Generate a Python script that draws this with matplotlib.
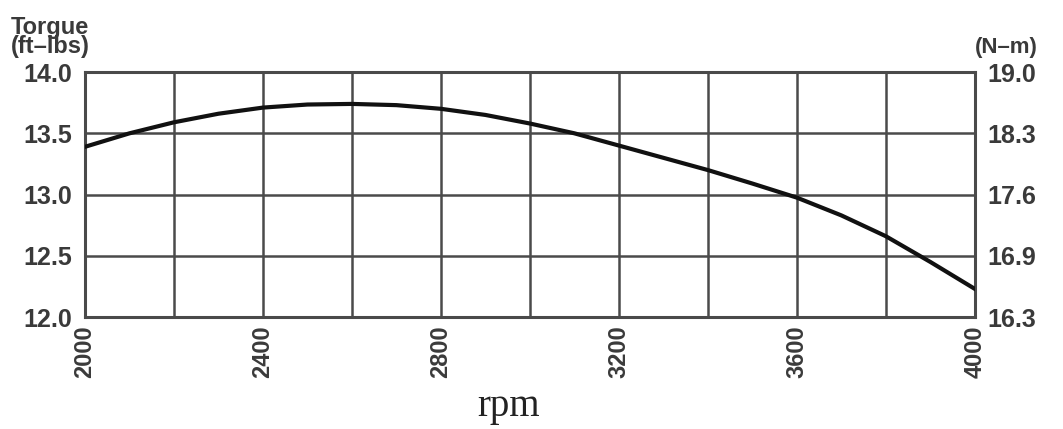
import matplotlib
matplotlib.use("Agg")
import matplotlib.pyplot as plt

rpm = [2000, 2100, 2200, 2300, 2400, 2500, 2600, 2700, 2800, 2900, 3000,
       3100, 3200, 3300, 3400, 3500, 3600, 3700, 3800, 3900, 4000]
torque = [13.39, 13.50, 13.59, 13.66, 13.71, 13.735, 13.74, 13.73, 13.70, 13.65, 13.58,
          13.50, 13.40, 13.30, 13.20, 13.09, 12.975, 12.83, 12.66, 12.45, 12.23]

x_ticks = [2000, 2200, 2400, 2600, 2800, 3000, 3200, 3400, 3600, 3800, 4000]
x_labels = ["2000", "", "2400", "", "2800", "", "3200", "", "3600", "", "4000"]
y_ticks = [12.0, 12.5, 13.0, 13.5, 14.0]
y_labels = ["12.0", "12.5", "13.0", "13.5", "14.0"]
y2_labels = ["16.3", "16.9", "17.6", "18.3", "19.0"]

fam = ["Liberation Sans", "DejaVu Sans"]
tc = "#3a3a3a"
gc = "#4a4a4a"

fig = plt.figure(figsize=(10.63, 4.29), dpi=100)
ax = fig.add_axes([0.080, 0.261, 0.837, 0.571])
ax.plot(rpm, torque, color="#111111", lw=3.0, zorder=3)
ax.set_xlim(2000, 4000)
ax.set_ylim(12.0, 14.0)
ax.set_xticks(x_ticks)
ax.set_xticklabels(x_labels, rotation=90, fontsize=17, fontweight="bold",
                   family=fam, color=tc)
ax.set_yticks(y_ticks)
ax.set_yticklabels(y_labels, fontsize=18, fontweight="bold", family=fam, color=tc)
ax.tick_params(length=0, pad=9)
ax.tick_params(axis="x", pad=6)
ax.grid(True, color=gc, lw=1.8)
for s in ax.spines.values():
    s.set_color(gc)
    s.set_linewidth(2.2)

ax2 = ax.twinx()
ax2.set_ylim(12.0, 14.0)
ax2.set_yticks(y_ticks)
ax2.set_yticklabels(y2_labels, fontsize=18, family=fam, color=tc, fontweight="bold")
ax2.tick_params(length=0, pad=9)
for s in ax2.spines.values():
    s.set_visible(False)

fig.text(0.010, 0.865, "Torgue\n(ft\u2013lbs)", fontsize=17, fontweight="bold",
         family=fam, color=tc, ha="left", va="bottom", linespacing=0.78)
fig.text(0.917, 0.865, "(N\u2013m)", fontsize=16, fontweight="bold",
         family=fam, color=tc, ha="left", va="bottom")
fig.text(0.478, 0.01, "rpm", fontsize=28, family=["Liberation Serif", "DejaVu Serif"],
         color="#222222", ha="center", va="bottom")

fig.savefig("out.png", dpi=100, facecolor="white")
